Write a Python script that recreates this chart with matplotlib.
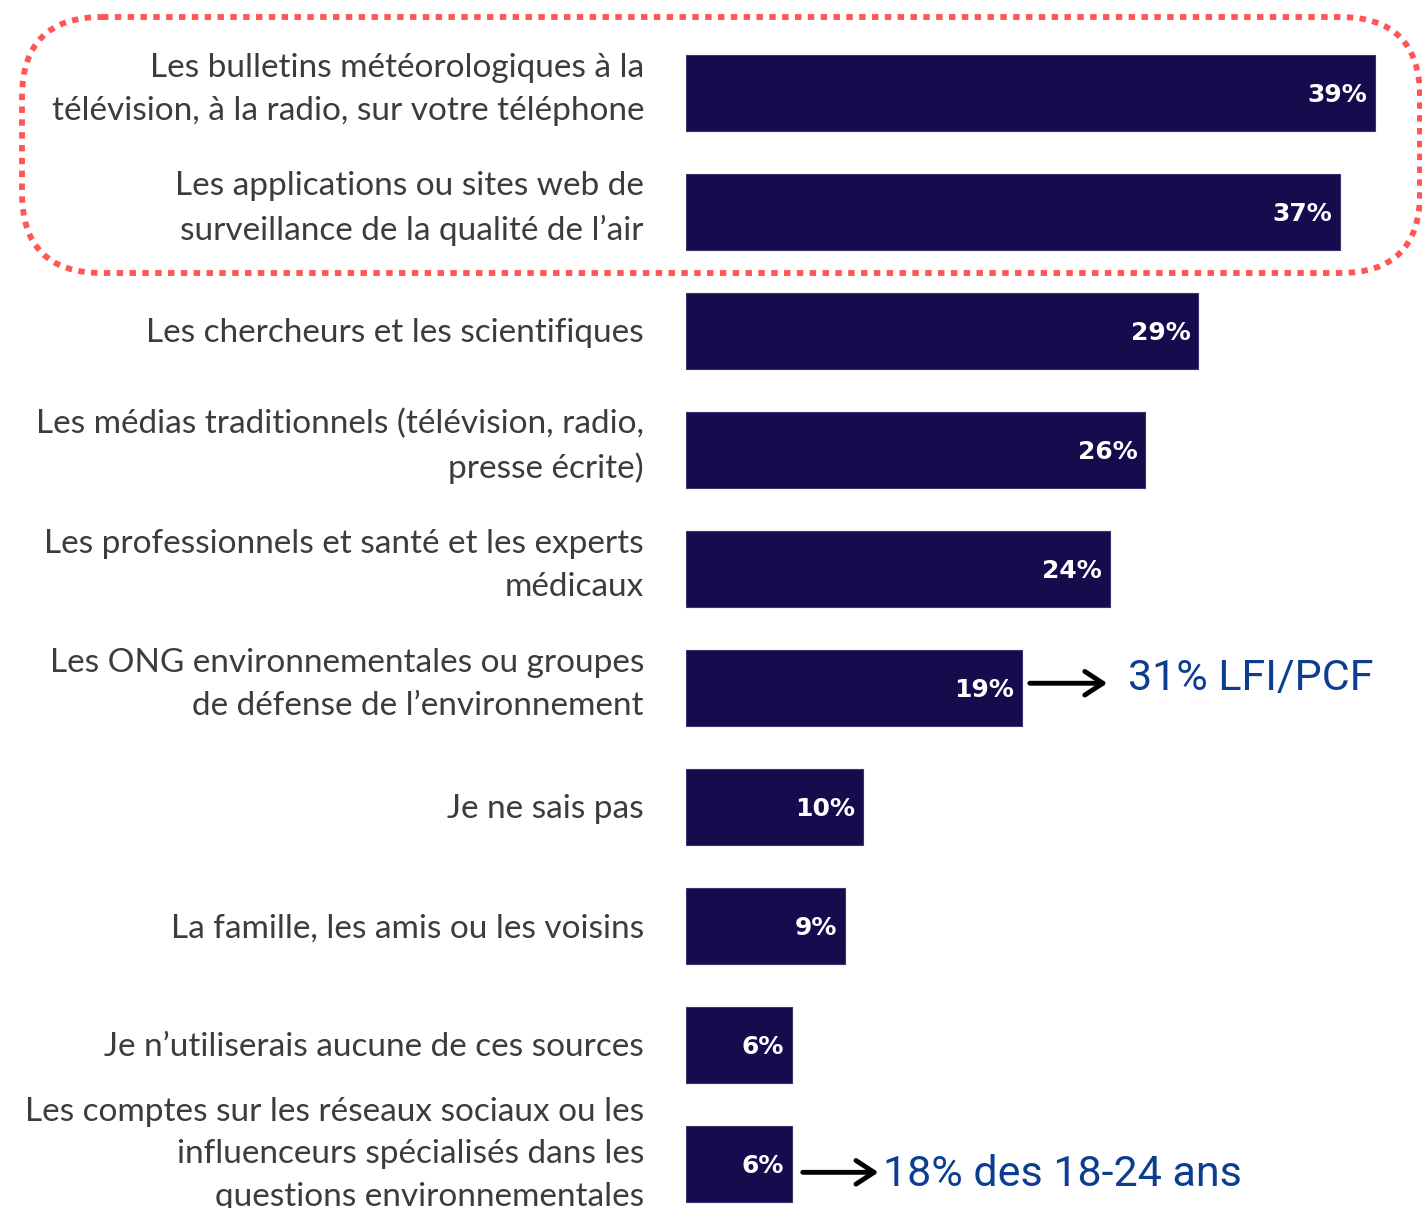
import matplotlib.pyplot as plt
from matplotlib.patches import FancyBboxPatch

labels = [
    "Les bulletins météorologiques à la\ntélévision, à la radio, sur votre téléphone",
    "Les applications ou sites web de\nsurveillance de la qualité de l’air",
    "Les chercheurs et les scientifiques",
    "Les médias traditionnels (télévision, radio,\npresse écrite)",
    "Les professionnels et santé et les experts\nmédicaux",
    "Les ONG environnementales ou groupes\nde défense de l’environnement",
    "Je ne sais pas",
    "La famille, les amis ou les voisins",
    "Je n’utiliserais aucune de ces sources",
    "Les comptes sur les réseaux sociaux ou les\ninfluenceurs spécialisés dans les\nquestions environnementales",
]
values = [39, 37, 29, 26, 24, 19, 10, 9, 6, 6]

# side notes: (row index, text)
notes = [(5, "31% LFI/PCF"), (9, "18% des 18-24 ans")]

W, H = 1422, 1208
fig = plt.figure(figsize=(W / 100, H / 100), dpi=100)

px = 17.67  # pixels per percent
x0 = 686
ax = fig.add_axes([x0 / W, 0, (W - x0) / W, 1])
ax.set_xlim(0, (W - x0) / px)
ax.set_ylim((H - 93) / 119, -93 / 119)
ax.axis("off")

bar_color = "#150B4D"
ax.barh(range(len(values)), values, height=0.64, color=bar_color,
        edgecolor="#3a3370", linewidth=0.8)

for i, (lab, v) in enumerate(zip(labels, values)):
    ax.text(v - 0.45, i + 0.02, f"{v}%", color="white", fontsize=18,
            fontweight="bold", ha="right", va="center", family="DejaVu Sans")
    nlines = lab.count("\n") + 1
    dy = 0.02 if nlines == 1 else (-0.03 if nlines == 2 else -0.08)
    ax.text(-42 / px, i + dy, lab, ha="right", va="center", color="#3c3c3c",
            fontsize=24, family="Lato", linespacing=1.52, clip_on=False)

note_blue = "#0B3D91"
note_pos = {5: (0.3, 4.7, 1.0, -0.04, -0.04), 9: (0.45, 4.6, 0.1, 0.07, 0.02)}
for i, txt in notes:
    v = values[i]
    s, length, gap, dy, tdy = note_pos[i]
    start = v + s
    end = start + length
    ax.annotate("", xy=(end, i + dy), xytext=(start, i + dy),
                arrowprops=dict(arrowstyle="->,head_length=1.3,head_width=0.85",
                                color="black", lw=3.5, capstyle="round"))
    ax.text(end + gap, i + dy + tdy, txt, color=note_blue,
            fontsize=31, family="Roboto", ha="left", va="center")

# dotted frame around the two top rows
over = fig.add_axes([0, 0, 1, 1], zorder=-1)
over.set_xlim(0, W)
over.set_ylim(H, 0)
over.axis("off")
frame = FancyBboxPatch((22, 17), W - 24, 256,
                       boxstyle="round,pad=0,rounding_size=80",
                       fill=False, edgecolor="#FF5555", linewidth=4.2,
                       linestyle=(0, (1.1, 1.1)), capstyle="butt")
over.add_patch(frame)

fig.savefig("out.png", dpi=100)
